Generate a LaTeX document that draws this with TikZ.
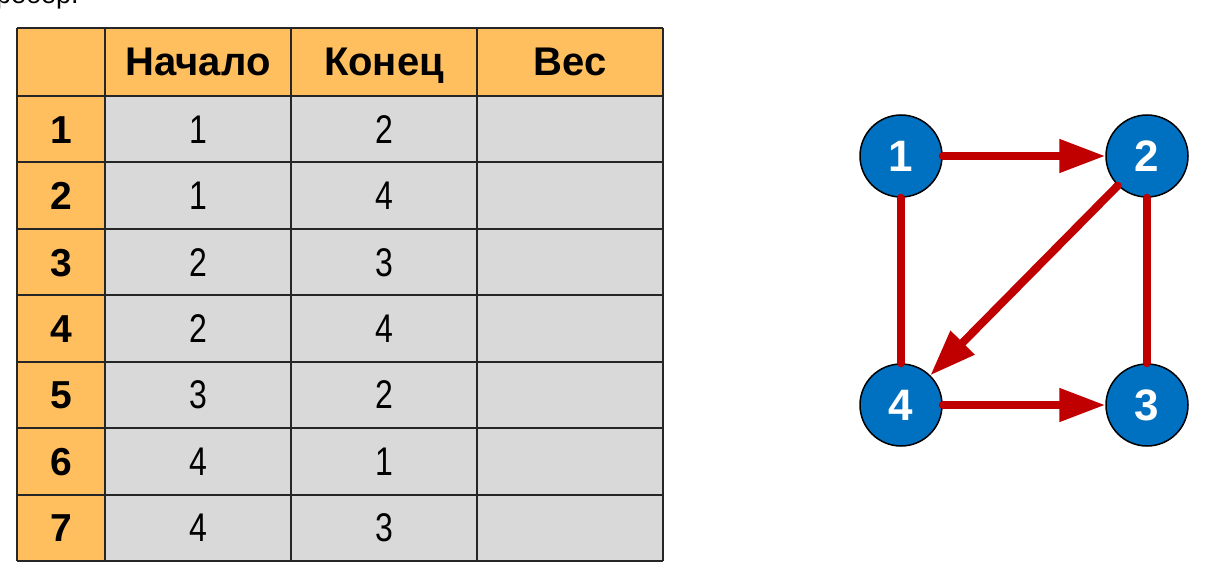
\documentclass[tikz,border=0pt]{standalone}
\usepackage{fontspec}
\setmainfont{Liberation Sans}
\newfontfamily\narrowfont[FakeStretch=0.8]{Liberation Sans}
\usetikzlibrary{arrows.meta}
\definecolor{hdr}{HTML}{FFBF5F}
\definecolor{cellgray}{HTML}{D9D9D9}
\definecolor{nodeblue}{HTML}{0070C0}
\definecolor{edgered}{HTML}{C00000}
\definecolor{gridcol}{HTML}{262626}
\tikzset{
  gridline/.style={draw=gridcol, line width=2pt},
  hdrtext/.style={anchor=base, inner sep=0pt, font=\fontsize{40}{44}\selectfont\bfseries},
  rowtext/.style={anchor=base, inner sep=0pt, font=\fontsize{39}{42}\selectfont\bfseries},
  celltext/.style={anchor=base, inner sep=0pt, font=\fontsize{40}{42}\selectfont\narrowfont},
  vertex/.style={circle, fill=nodeblue, draw=black, line width=1.5pt, minimum size=82pt, inner sep=0pt,
                 text=white, font=\fontsize{44}{48}\selectfont\bfseries},
  edgeline/.style={draw=edgered, line width=8pt, line cap=round},
  arc/.style={edgeline, -{Triangle[length=46pt,width=32pt]}},
}
\begin{document}
\begin{tikzpicture}[x=1pt,y=-1pt]
\useasboundingbox (0,0) rectangle (1222,583);
\node[anchor=base west, inner sep=0pt, font=\fontsize{27}{30}\selectfont] (caption) at (-4,4) {ребер.};
% table backgrounds
\fill[hdr] (17,28) rectangle (663,96);
\fill[hdr] (17,96) rectangle (105,561);
\fill[cellgray] (105,96) rectangle (663,561);
% grid
\foreach \x in {17,105,291,477,663} \draw[gridline] (\x,28) -- (\x,561);
\foreach \k in {0,...,7} \draw[gridline] (17,96+66.43*\k) -- (663,96+66.43*\k);
\draw[gridline] (17,28) -- (663,28);
% header
\node[hdrtext] (hA) at (198,76) {Начало};
\node[hdrtext] (hB) at (384,76) {Конец};
\node[hdrtext] (hC) at (570,76) {Вес};
% rows
\foreach \r/\a/\b [count=\k from 0] in {1/1/2,2/1/4,3/2/3,4/2/4,5/3/2,6/4/1,7/4/3}{
  \node[rowtext] (r\r) at (61,129.2+66.43*\k+14) {\r};
  \node[celltext] (a\r) at (198,129.2+66.43*\k+14) {\a};
  \node[celltext] (b\r) at (384,129.2+66.43*\k+14) {\b};
}
% graph
\node[vertex] (n1) at (901,156) {1};
\node[vertex] (n2) at (1147,156) {2};
\node[vertex] (n4) at (901,405) {4};
\node[vertex] (n3) at (1147,405) {3};
\draw[arc] (n1) -- (n2);
\draw[edgeline] (n1) -- (n4);
\draw[edgeline] (n2) -- (n3);
\draw[arc] (n2) -- (n4);
\draw[arc] (n4) -- (n3);
\end{tikzpicture}
\end{document}
